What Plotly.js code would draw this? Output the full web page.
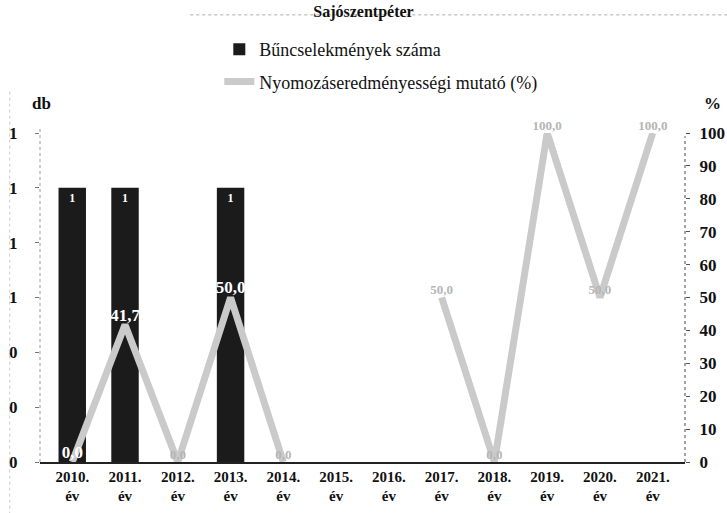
<!DOCTYPE html>
<html>
<head>
<meta charset="utf-8">
<script src="https://cdn.plot.ly/plotly-3.0.1.min.js"></script>
<style>html,body{margin:0;padding:0;background:#fff;}#chart{width:727px;height:513px;}</style>
</head>
<body>
<div id="chart"></div>
<script>
// ---- data ----
const categories = ["2010.<br>év","2011.<br>év","2012.<br>év","2013.<br>év","2014.<br>év","2015.<br>év","2016.<br>év","2017.<br>év","2018.<br>év","2019.<br>év","2020.<br>év","2021.<br>év"];
const crimeCounts = [1, 1, 0, 1, 0, 0, 0, 0, 0, 0, 0, 0];
const clearanceRate = [0, 41.7, 0, 50, 0, null, null, 50, 0, 100, 50, 100];
const chartTitle = "Sajószentpéter";
const seriesNames = ["Bűncselekmények száma", "Nyomozáseredményességi mutató (%)"];

const serif = "Times New Roman";
const barText = crimeCounts.map(v => v > 0 ? String(v) : "");
const lineText = clearanceRate.map(v => v === null ? "" : v.toFixed(1).replace(".", ","));
const onBar = clearanceRate.map((v, i) => crimeCounts[i] > 0);
const lineTextColor = onBar.map(b => b ? "#ffffff" : "#b5b5b5");
const lineTextSize = onBar.map(b => b ? 17 : 13);

const traces = [
  {
    type: "bar", x: categories, y: crimeCounts, name: seriesNames[0],
    legendgroup: "a",
    marker: {color: "#1b1b1b"}, width: 0.52,
    text: barText, textposition: "inside", insidetextanchor: "end",
    textfont: {family: serif, size: 12, color: "#ffffff", weight: "bold"},
    cliponaxis: false, hoverinfo: "skip"
  },
  {
    type: "scatter", mode: "lines+text", x: categories, y: clearanceRate, name: seriesNames[1],
    legendgroup: "b",
    yaxis: "y2", connectgaps: false,
    line: {color: "#cacaca", width: 7},
    text: lineText, textposition: "top center",
    textfont: {family: serif, size: lineTextSize, color: lineTextColor, weight: "bold"},
    cliponaxis: false, hoverinfo: "skip"
  }
];

const layout = {
  width: 727, height: 513,
  margin: {l: 40, r: 42, t: 133, b: 51},
  paper_bgcolor: "#ffffff", plot_bgcolor: "#ffffff",
  showlegend: true,
  font: {family: serif, color: "#111"},
  title: {text: chartTitle, font: {family: serif, size: 16, color: "#111", weight: "bold"},
          x: 0.5, xref: "container", y: 0.988, yref: "container", yanchor: "top", pad: {t: 0, b: 0}},
  legend: {x: 0.278, y: 1.31, xanchor: "left", yanchor: "top", orientation: "v",
           font: {family: serif, size: 18, color: "#111"}, tracegroupgap: 6,
           bgcolor: "rgba(0,0,0,0)"},
  xaxis: {type: "category", showgrid: false, zeroline: false,
          showline: true, linecolor: "#222", linewidth: 1.5,
          ticks: "", tickfont: {family: serif, size: 15, color: "#111", weight: "bold"}},
  yaxis: {range: [0, 1.2], dtick: 0.2, tickformat: ".0f", showgrid: false, zeroline: false,
          showline: false, ticks: "outside", ticklen: 4, tickcolor: "#777",
          ticklabelstandoff: 14,
          tickfont: {family: serif, size: 17, color: "#111", weight: "bold"}},
  yaxis2: {range: [0, 100], dtick: 10, overlaying: "y", side: "right", showgrid: false, zeroline: false,
           showline: false, ticks: "outside", ticklen: 4, tickcolor: "#555",
           ticklabelstandoff: 6,
           tickfont: {family: serif, size: 17, color: "#111", weight: "bold"}},
  shapes: [
    {type: "line", xref: "paper", yref: "paper", x0: 0, x1: 0, y0: 0, y1: 1.02,
     line: {color: "#999", width: 1, dash: "dot"}},
    {type: "line", xref: "paper", yref: "paper", x0: 1, x1: 1, y0: 0, y1: 0.99,
     line: {color: "#444", width: 1, dash: "dot"}},
    {type: "line", xref: "paper", yref: "paper", x0: 0.233, x1: 1.07, y0: 1.359, y1: 1.359,
     line: {color: "#aaa", width: 1, dash: "dot"}},
    {type: "line", xref: "paper", yref: "paper", x0: -0.047, x1: -0.047, y0: -0.16, y1: 1.13,
     line: {color: "#ccc", width: 1, dash: "dot"}}
  ],
  annotations: [
    {text: "db", xref: "paper", yref: "paper", x: 0.003, y: 1.09, xanchor: "center", yanchor: "middle",
     showarrow: false, font: {family: serif, size: 17, color: "#111", weight: "bold"}},
    {text: "%", xref: "paper", yref: "paper", x: 1.042, y: 1.09, xanchor: "center", yanchor: "middle",
     showarrow: false, font: {family: serif, size: 17, color: "#111", weight: "bold"}}
  ]
};

Plotly.newPlot("chart", traces, layout, {displayModeBar: false, staticPlot: true});
</script>
</body>
</html>
